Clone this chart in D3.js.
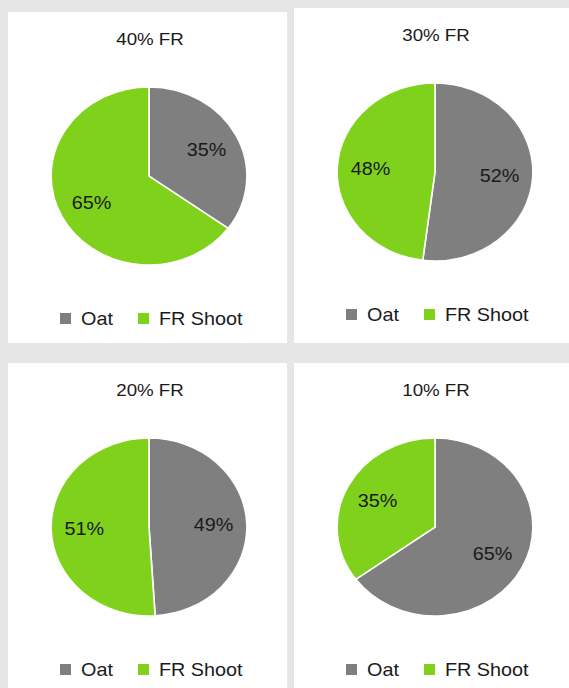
<!DOCTYPE html>
<html>
<head>
<meta charset="utf-8">
<script src="https://cdn.jsdelivr.net/npm/d3@7"></script>
<style>
  body { margin: 0; background: #e6e6e6; }
  svg { display: block; }
  text { font-family: "Liberation Sans", Arial, sans-serif; fill: #1a1a1a; }
</style>
</head>
<body>
<script>
// chart data
var titles = ["40% FR", "30% FR", "20% FR", "10% FR"];
var categories = ["Oat", "FR Shoot"];
var oatValues = [35, 52, 49, 65];
var frValues = [65, 48, 51, 35];
var colors = ["#7f7f7f", "#7fd11b"];

var W = 569, H = 688;
// panel boxes: x, y, w, h
var boxes = [[8, 12, 279, 331], [294, 8, 275, 335], [8, 363, 279, 325], [294, 363, 275, 325]];
var radius = 89, stretch = 1.1;

var svg = d3.select("body").append("svg")
    .attr("width", W)
    .attr("height", H);

svg.append("rect").attr("width", W).attr("height", H).attr("fill", "#e6e6e6");

var color = d3.scaleOrdinal().domain(categories).range(colors);

var pie = d3.pie().sort(null).value(function(d) { return d.value; });
var arc = d3.arc().innerRadius(0).outerRadius(radius);
var labelArc = d3.arc().innerRadius(radius * 0.66).outerRadius(radius * 0.66);

boxes.forEach(function(b, i) {
    var g = svg.append("g");
    g.append("rect")
        .attr("x", b[0]).attr("y", b[1])
        .attr("width", b[2]).attr("height", b[3])
        .attr("fill", "#ffffff");

    var cx = b[0] + 141, cy = b[1] + 164;

    g.append("text")
        .attr("transform", "translate(" + (cx + 1) + "," + (b[1] + 33) + ") scale(" + stretch + ",1)")
        .attr("text-anchor", "middle")
        .style("font-size", "17px")
        .text(titles[i]);

    var data = [
        { key: categories[0], value: oatValues[i] },
        { key: categories[1], value: frValues[i] }
    ];

    var pg = g.append("g")
        .attr("transform", "translate(" + cx + "," + cy + ") scale(" + stretch + ",1)");

    var arcs = pie(data);
    pg.selectAll("path")
        .data(arcs)
        .enter().append("path")
        .attr("d", arc)
        .attr("fill", function(d) { return color(d.data.key); })
        .attr("stroke", "#ffffff")
        .attr("stroke-width", 1.5);

    pg.selectAll("text")
        .data(arcs)
        .enter().append("text")
        .attr("transform", function(d) { var c = labelArc.centroid(d); return "translate(" + c[0] + "," + c[1] + ")"; })
        .attr("text-anchor", "middle")
        .attr("dy", "0.35em")
        .style("font-size", "18px")
        .text(function(d) { return d.data.value + "%"; });

    // legend
    var lg = g.append("g")
        .attr("transform", "translate(" + cx + "," + (b[1] + 313) + ")");
    var items = [{ key: categories[0], x: -89 }, { key: categories[1], x: -11 }];
    items.forEach(function(it) {
        lg.append("rect")
            .attr("x", it.x).attr("y", -12)
            .attr("width", 11).attr("height", 11)
            .attr("fill", color(it.key));
        lg.append("text")
            .attr("transform", "translate(" + (it.x + 21) + ",0) scale(" + stretch + ",1)")
            .style("font-size", "18px")
            .text(it.key);
    });
});
</script>
</body>
</html>
